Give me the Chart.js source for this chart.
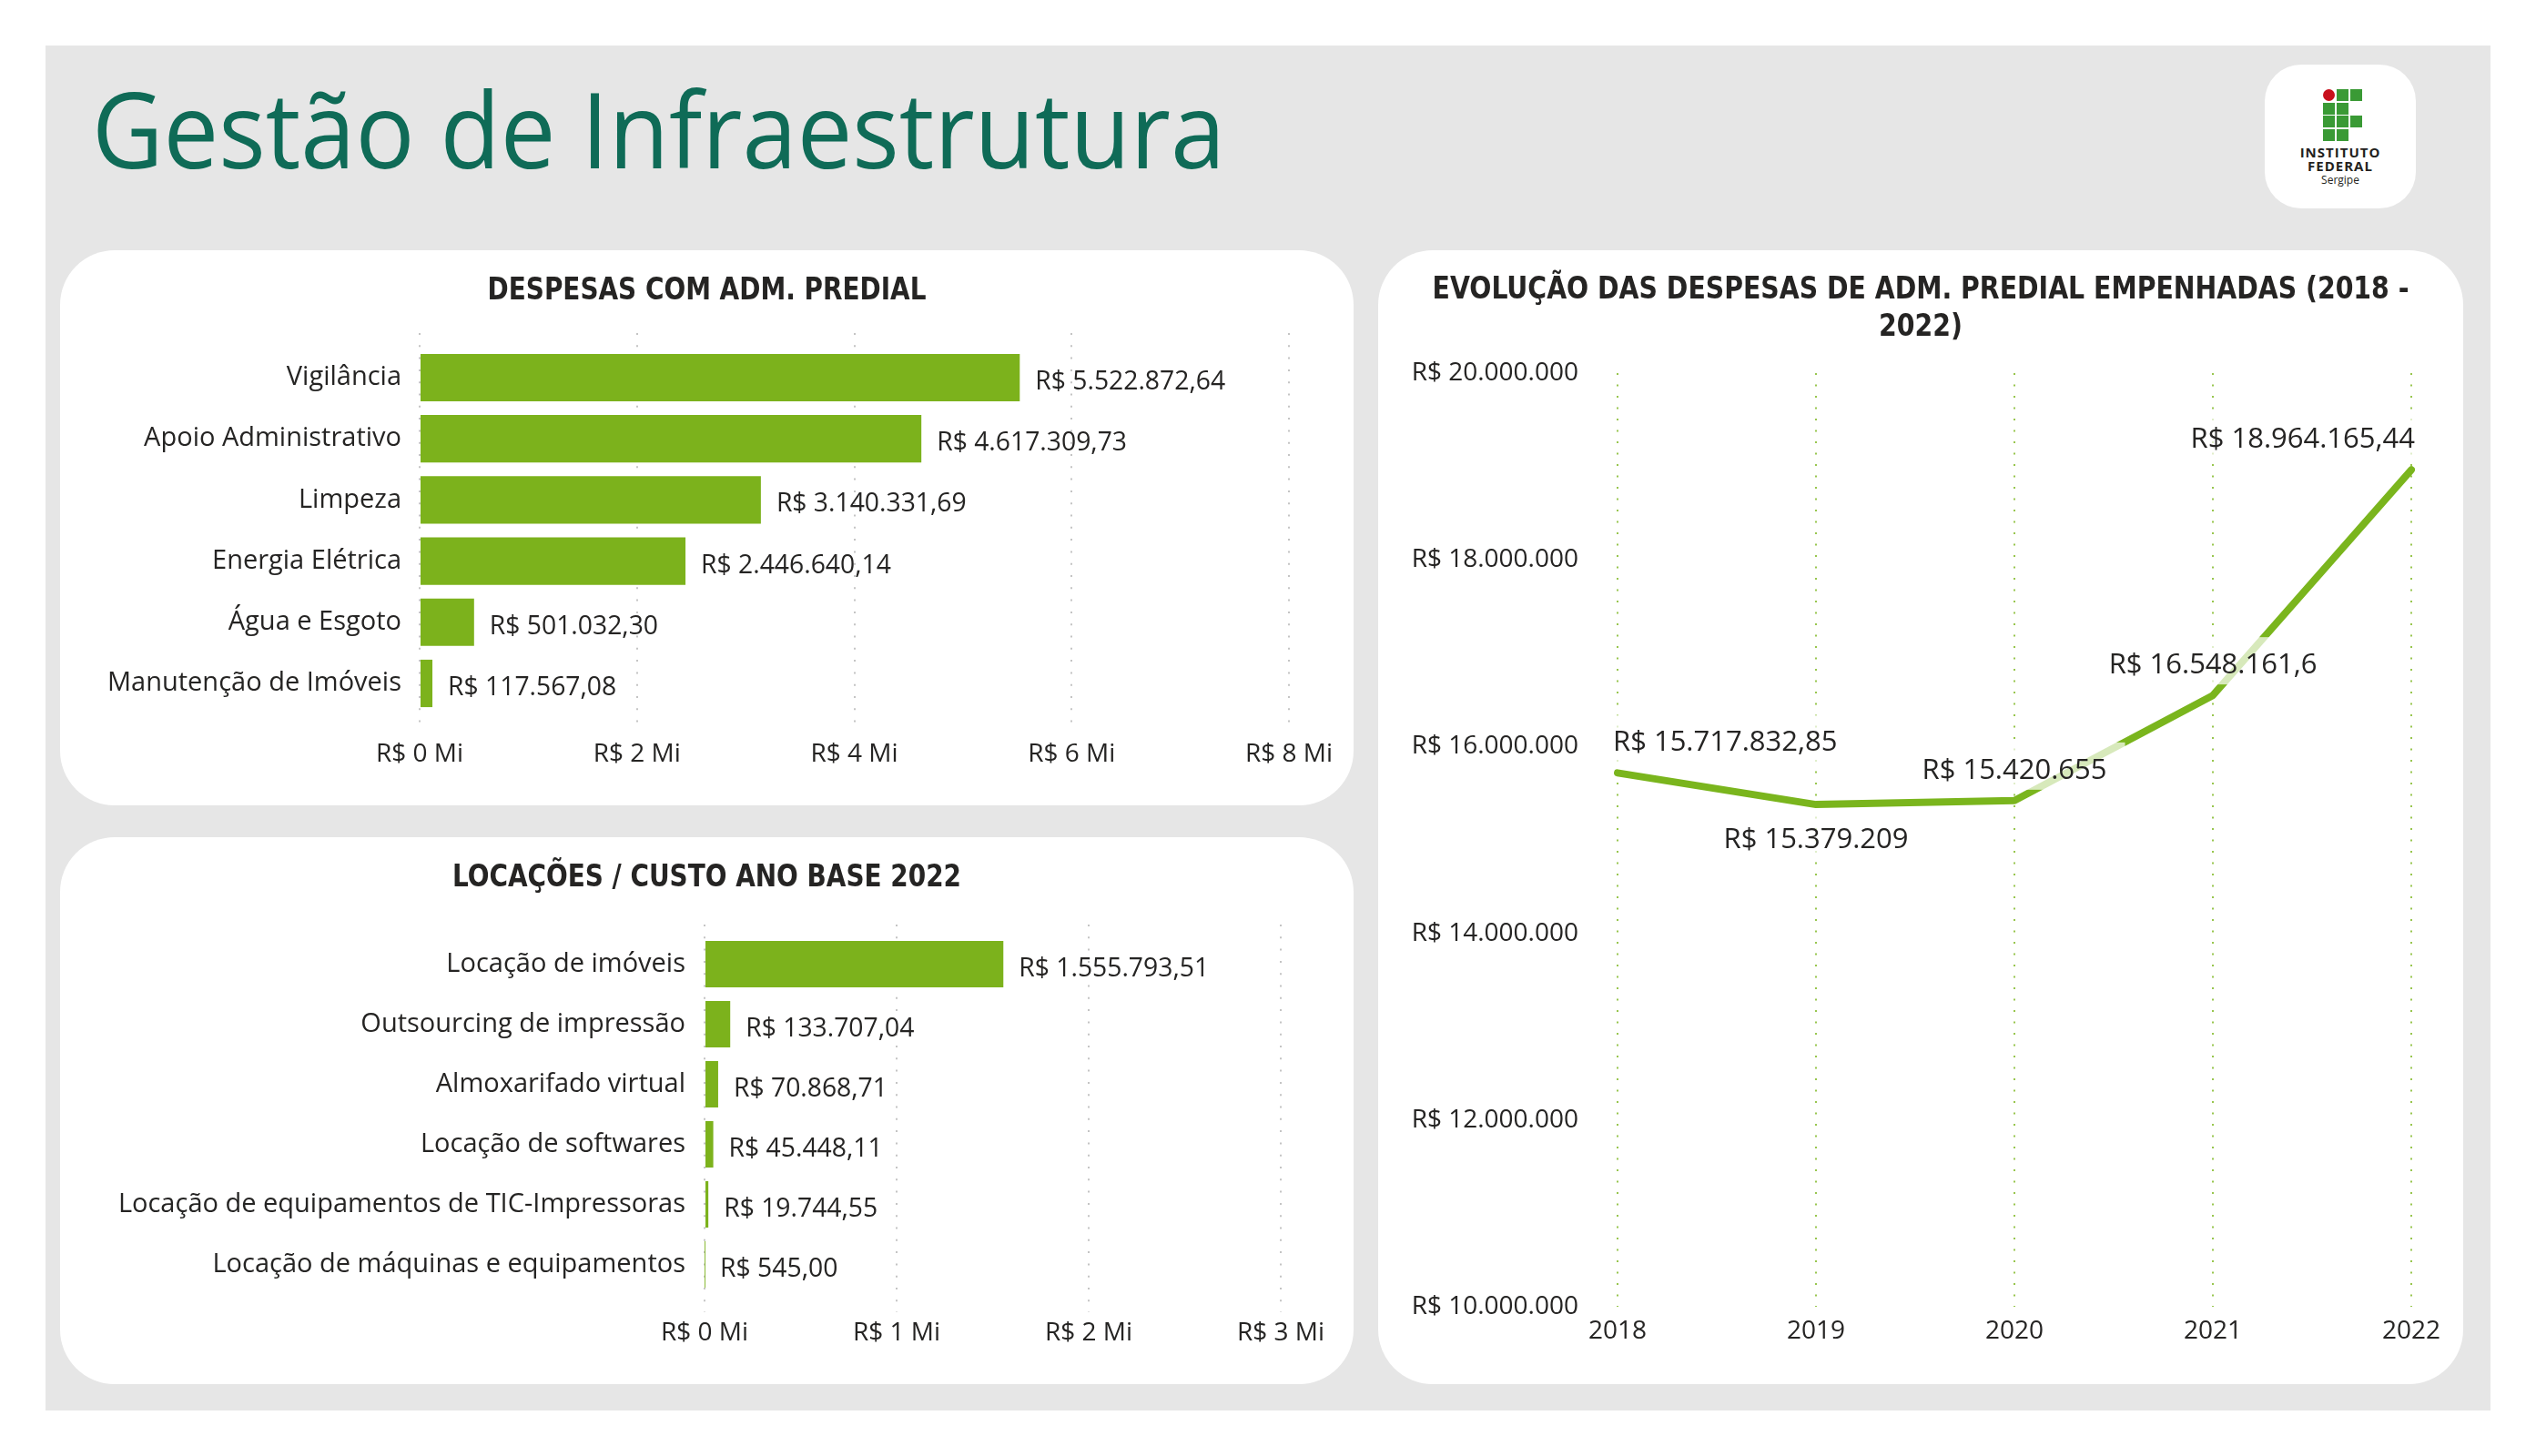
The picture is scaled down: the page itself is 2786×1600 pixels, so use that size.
<!DOCTYPE html>
<html lang="pt-BR">
<head>
<meta charset="utf-8">
<title>Gestão de Infraestrutura</title>
<script src="https://cdn.jsdelivr.net/npm/chart.js@4.4.1/dist/chart.umd.min.js"></script>
<style>
    html, body {
        margin: 0;
        padding: 0;
        background: #fff;
    }

    body {
        width: 2786px;
        height: 1600px;
        position: relative;
        overflow: hidden;
        font-family: "Open Sans", sans-serif;
    }

    #page {
        position: absolute;
        left: 50px;
        top: 50px;
        width: 2686px;
        height: 1500px;
        background: #e6e6e6;
    }

    h1 {
        position: absolute;
        left: 101px;
        top: 82px;
        margin: 0;
        font-weight: 400;
        font-size: 116px;
        line-height: 1;
        color: #0f6b57;
        white-space: nowrap;
        transform: scaleX(0.932);
        transform-origin: left top;
    }

    .panel {
        position: absolute;
        background: #fff;
        border-radius: 60px;
    }

    .panel .box {
        position: absolute;
        left: 0;
        top: 0;
        width: 100%;
        height: 100%;
    }

    .panel .title {
        position: absolute;
        left: 0;
        width: 100%;
        text-align: center;
        font-family: "DejaVu Sans Condensed", "DejaVu Sans", sans-serif;
        font-weight: bold;
        font-size: 33px;
        line-height: 41px;
        color: #252423;
        white-space: nowrap;
        transform-origin: center top;
    }

    #logo {
        position: absolute;
        left: 2488px;
        top: 71px;
        width: 166px;
        height: 158px;
        background: #fff;
        border-radius: 40px;
    }

    #logo .sq {
        position: absolute;
        width: 12.5px;
        height: 12.5px;
        background: #3a9a35;
    }

    #logo .dot {
        position: absolute;
        width: 13px;
        height: 13px;
        border-radius: 50%;
        background: #c8101c;
    }

    #logo .txt {
        position: absolute;
        left: 0;
        width: 100%;
        text-align: center;
        line-height: 1;
        color: #231f20;
    }
</style>
</head>
<body>

<div id="page"></div>
<h1>Gestão de Infraestrutura</h1>

<div id="logo">
    <div class="dot" style="left:64px;top:27px"></div>
    <div class="sq" style="left:79px;top:27px"></div>
    <div class="sq" style="left:94px;top:27px"></div>
    <div class="sq" style="left:64px;top:42px"></div>
    <div class="sq" style="left:79px;top:42px"></div>
    <div class="sq" style="left:64px;top:56px"></div>
    <div class="sq" style="left:79px;top:56px"></div>
    <div class="sq" style="left:94px;top:56px"></div>
    <div class="sq" style="left:64px;top:71px"></div>
    <div class="sq" style="left:79px;top:71px"></div>
    <div class="txt" style="top:89px;font-size:15px;font-weight:700;letter-spacing:1px">INSTITUTO</div>
    <div class="txt" style="top:104px;font-size:15px;font-weight:700;letter-spacing:1px">FEDERAL</div>
    <div class="txt" style="top:121px;font-size:12px">Sergipe</div>
</div>

<div class="panel" style="left:66px;top:275px;width:1421px;height:610px">
    <div class="box"><canvas id="despesas"></canvas></div>
    <div class="title" style="top:22px;transform:scaleX(0.94)">DESPESAS COM ADM. PREDIAL</div>
</div>

<div class="panel" style="left:66px;top:920px;width:1421px;height:601px">
    <div class="box"><canvas id="locacoes"></canvas></div>
    <div class="title" style="top:22px;transform:scaleX(0.94)">LOCAÇÕES / CUSTO ANO BASE 2022</div>
</div>

<div class="panel" style="left:1514px;top:275px;width:1192px;height:1246px">
    <div class="box"><canvas id="evolucao"></canvas></div>
    <div class="title" style="top:21px;transform:scaleX(0.955)">EVOLUÇÃO DAS DESPESAS DE ADM. PREDIAL EMPENHADAS (2018 -<br>2022)</div>
</div>

<script>
/* ===============================
   DATA
=============================== */
const despesasCats = [
    "Vigilância",
    "Apoio Administrativo",
    "Limpeza",
    "Energia Elétrica",
    "Água e Esgoto",
    "Manutenção de Imóveis"
];
const despesasVals = [5522872.64, 4617309.73, 3140331.69, 2446640.14, 501032.30, 117567.08];
const despesasTicks = [0, 2000000, 4000000, 6000000, 8000000];

const locacoesCats = [
    "Locação de imóveis",
    "Outsourcing de impressão",
    "Almoxarifado virtual",
    "Locação de softwares",
    "Locação de equipamentos de TIC-Impressoras",
    "Locação de máquinas e equipamentos"
];
const locacoesVals = [1555793.51, 133707.04, 70868.71, 45448.11, 19744.55, 545.00];
const locacoesTicks = [0, 1000000, 2000000, 3000000];

const anos = ["2018", "2019", "2020", "2021", "2022"];
const evolucaoVals = [15717832.85, 15379209, 15420655, 16548161.6, 18964165.44];
const evolucaoTicks = [10000000, 12000000, 14000000, 16000000, 18000000, 20000000];

/* ===============================
   STYLE
=============================== */
const GREEN = "#7cb21c";
const TEXT = "#252423";
const BODY_FONT = "'Open Sans', sans-serif";

Chart.defaults.font.family = BODY_FONT;
Chart.defaults.color = TEXT;

/* ===============================
   HELPERS
=============================== */
function brl(v, fixed) {
    let parts = v.toFixed(2).split(".");
    let int = parts[0].replace(/\B(?=(\d{3})+(?!\d))/g, ".");
    let frac = fixed ? parts[1] : parts[1].replace(/0+$/, "");
    return "R$ " + int + (frac ? "," + frac : "");
}

/* value written at the end of every bar */
const barLabels = {
    id: "barLabels",
    afterDatasetsDraw(chart) {
        const ctx = chart.ctx;
        const meta = chart.getDatasetMeta(0);
        const data = chart.data.datasets[0].data;

        ctx.save();
        ctx.font = "28.3px " + BODY_FONT;
        ctx.fillStyle = TEXT;
        ctx.textAlign = "left";
        ctx.textBaseline = "middle";
        meta.data.forEach((bar, i) => {
            ctx.fillText(brl(data[i].x, true), bar.x + 17, bar.y + 5);
        });
        ctx.restore();
    }
};

/* value labels over the line, white semi transparent box behind */
const lineLabels = {
    id: "lineLabels",
    afterDatasetsDraw(chart, args, opts) {
        const ctx = chart.ctx;
        const meta = chart.getDatasetMeta(0);
        const data = chart.data.datasets[0].data;
        const last = meta.data.length - 1;

        ctx.save();
        ctx.font = "31px " + BODY_FONT;
        ctx.textBaseline = "alphabetic";
        meta.data.forEach((pt, i) => {
            const text = brl(data[i], false);
            const w = ctx.measureText(text).width;
            let x = pt.x - w / 2;
            if (i === 0) x = pt.x - 5;
            if (i === last) x = pt.x + 4 - w;
            const y = opts.below[i] ? pt.y + 48 : pt.y - 24;

            ctx.fillStyle = "rgba(255,255,255,0.7)";
            ctx.fillRect(x - 20, y - 40, w + 40, 52);
            ctx.fillStyle = TEXT;
            ctx.fillText(text, x, y);
        });
        ctx.restore();
    }
};

/* ===============================
   HORIZONTAL BARS
=============================== */
function barChart(id, cats, vals, ticks, cfg) {
    return new Chart(document.getElementById(id), {
        type: "bar",
        data: {
            datasets: [{
                data: vals.map((v, i) => ({ x: v, y: i })),
                backgroundColor: GREEN,
                barPercentage: cfg.bar,
                categoryPercentage: 1
            }]
        },
        options: {
            indexAxis: "y",
            responsive: true,
            maintainAspectRatio: false,
            animation: false,
            layout: { padding: { left: 0, right: cfg.right, top: cfg.top, bottom: 0 } },
            plugins: {
                legend: { display: false },
                tooltip: { enabled: false },
                title: { display: false }
            },
            scales: {
                x: {
                    type: "linear",
                    min: ticks[0],
                    max: ticks[ticks.length - 1],
                    afterBuildTicks: s => { s.ticks = ticks.map(v => ({ value: v })); },
                    afterFit: s => { s.height = cfg.xHeight; },
                    ticks: {
                        callback: v => "R$ " + v / 1000000 + " Mi",
                        padding: cfg.xPad,
                        font: { size: 28 },
                        maxRotation: 0
                    },
                    grid: { color: "#c4c4c4", lineWidth: 2, drawTicks: false },
                    border: { display: false, dash: [2, 11.3] }
                },
                y: {
                    type: "linear",
                    reverse: true,
                    offset: false,
                    min: cfg.min,
                    max: cfg.max,
                    afterBuildTicks: s => { s.ticks = cats.map((c, i) => ({ value: i })); },
                    afterFit: s => { s.width = cfg.yWidth; },
                    ticks: {
                        callback: v => cats[v] || "",
                        padding: cfg.yPad,
                        font: { size: 29 }
                    },
                    grid: { display: false, drawTicks: false },
                    border: { display: false }
                }
            }
        },
        plugins: [barLabels]
    });
}

barChart("despesas", despesasCats, despesasVals, despesasTicks, {
    bar: 0.776, right: 71, top: 91,
    xHeight: 83, xPad: 10, yWidth: 395, yPad: 20, min: -0.729, max: 5.759
});

barChart("locacoes", locacoesCats, locacoesVals, locacoesTicks, {
    bar: 0.773, right: 80, top: 96,
    xHeight: 79, xPad: 6, yWidth: 708, yPad: 21, min: -0.659, max: 5.795
});

/* ===============================
   LINE
=============================== */
new Chart(document.getElementById("evolucao"), {
    type: "line",
    data: {
        labels: anos,
        datasets: [{
            data: evolucaoVals,
            borderColor: "#7ab51d",
            borderWidth: 8,
            pointRadius: 0,
            tension: 0,
            borderCapStyle: "round",
            borderJoinStyle: "round",
            fill: false
        }]
    },
    options: {
        responsive: true,
        maintainAspectRatio: false,
        animation: false,
        layout: { padding: { left: 0, right: 57, top: 135, bottom: 0 } },
        plugins: {
            legend: { display: false },
            tooltip: { enabled: false },
            title: { display: false },
            lineLabels: { below: [false, true, false, false, false] }
        },
        scales: {
            x: {
                offset: false,
                afterFit: s => { s.height = 85; },
                ticks: { padding: 10, font: { size: 28 }, maxRotation: 0 },
                grid: { color: "#98c64e", lineWidth: 2, drawTicks: false },
                border: { display: false, dash: [2, 10.5] }
            },
            y: {
                min: evolucaoTicks[0],
                max: evolucaoTicks[evolucaoTicks.length - 1],
                afterBuildTicks: s => { s.ticks = evolucaoTicks.map(v => ({ value: v })); },
                afterFit: s => { s.width = 263; },
                ticks: {
                    callback: v => brl(v, false),
                    padding: 43,
                    font: { size: 28 }
                },
                grid: { display: false, drawTicks: false },
                border: { display: false }
            }
        }
    },
    plugins: [lineLabels]
});
</script>
</body>
</html>
